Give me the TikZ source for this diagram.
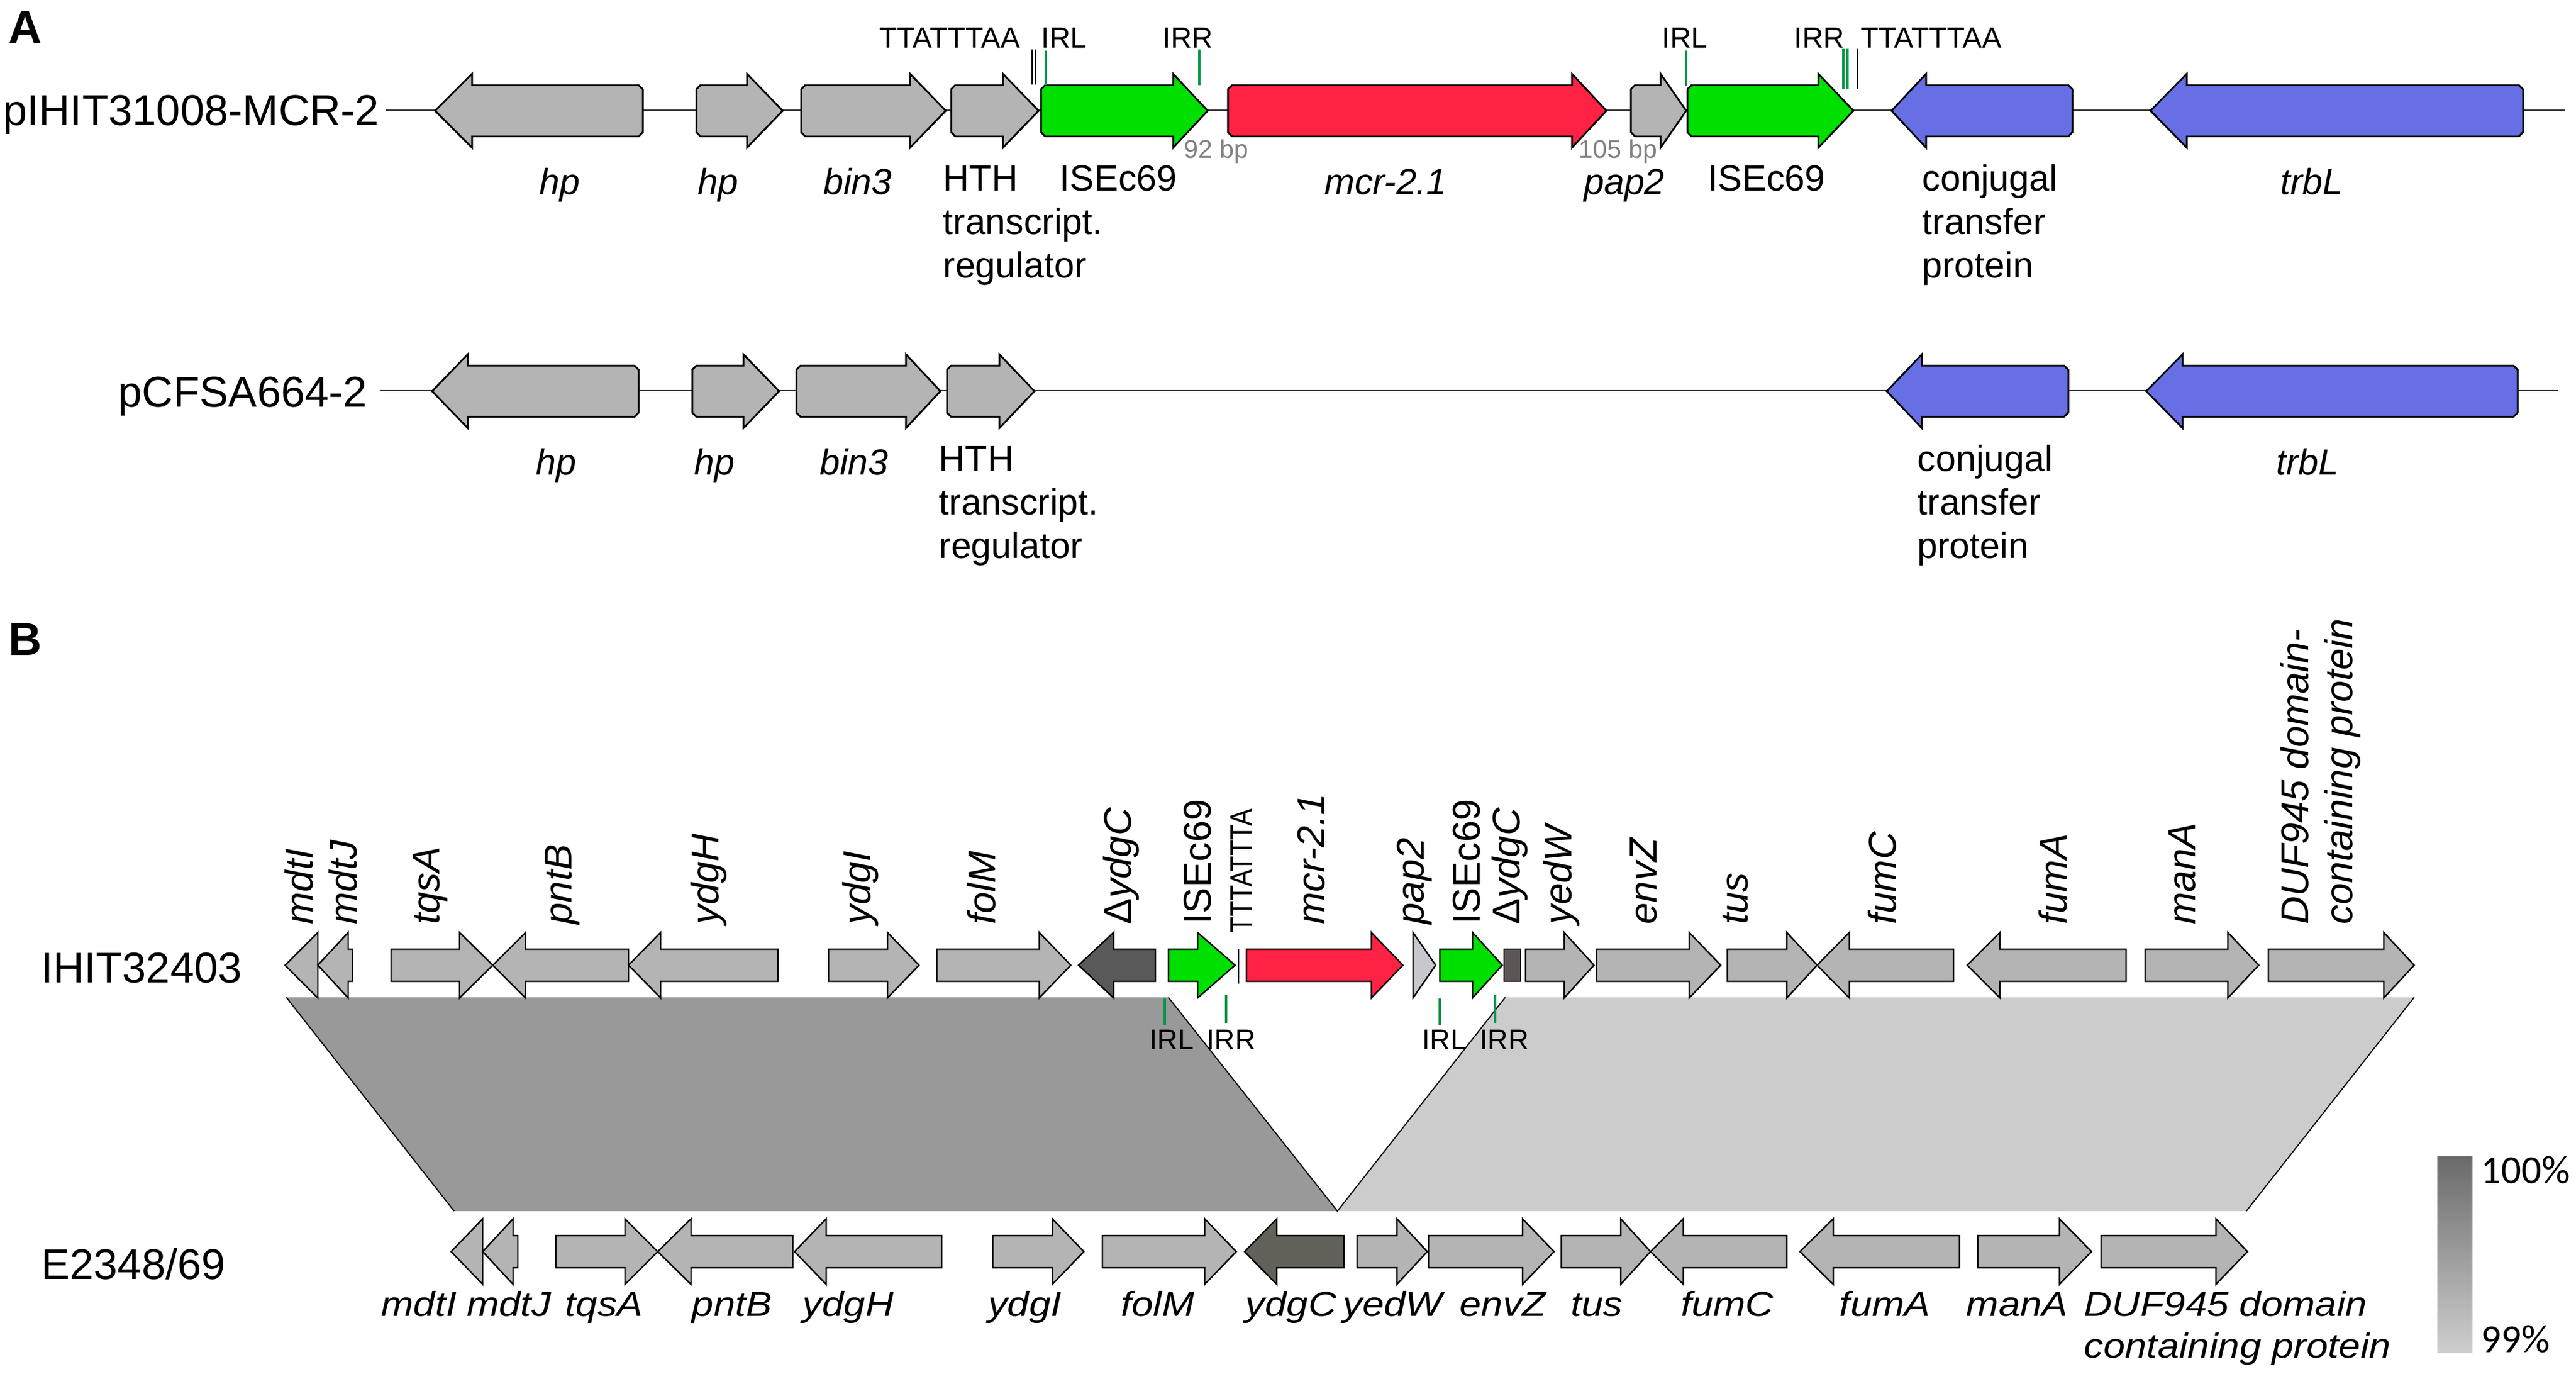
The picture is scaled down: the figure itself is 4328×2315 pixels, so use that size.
\documentclass[tikz,border=0pt]{standalone}
\usepackage{fontspec}
\setmainfont{Liberation Sans}
\newfontfamily\carlfont{Carlito}
\usepackage{graphicx}
\definecolor{ggrey}{RGB}{180,180,180}
\definecolor{ggreen}{RGB}{0,224,0}
\definecolor{gred}{RGB}{255,34,68}
\definecolor{gblue}{RGB}{102,112,228}
\definecolor{irgreen}{RGB}{0,150,70}
\definecolor{dkA}{RGB}{89,89,89}
\definecolor{dkB}{RGB}{94,86,86}
\definecolor{dkC}{RGB}{98,98,90}
\definecolor{ltpap}{RGB}{200,200,204}
\definecolor{blkL}{RGB}{153,153,153}
\definecolor{blkR}{RGB}{204,204,204}
\definecolor{bpgrey}{RGB}{128,128,128}
\def\Abody{43}\def\Ahead{62}\def\Acham{7}
\def\Bbody{27}\def\Bhead{55}
\tikzset{
  genea/.style={draw=black,line width=0.85pt,line join=miter},
  geneb/.style={draw=black,line width=0.7pt,line join=miter},
  backbone/.style={draw=black!80,line width=0.5pt},
  irline/.style={draw=irgreen,line width=1.1pt},
  tsdline/.style={draw=black,line width=0.45pt},
  panel/.style={font=\fontsize{22}{24}\selectfont\bfseries,inner sep=0,anchor=base west},
  rowlab/.style={font=\fontsize{20.6}{24}\selectfont,inner sep=0,anchor=base east},
  rowlabB/.style={font=\fontsize{20.5}{24}\selectfont,inner sep=0,anchor=base west},
  gl/.style={font=\fontsize{17.35}{20}\selectfont,inner sep=0,anchor=base},
  gli/.style={gl,font=\fontsize{17.35}{20}\selectfont\itshape},
  glw/.style={gl,anchor=base west},
  small/.style={font=\fontsize{13.9}{16}\selectfont,inner sep=0,anchor=base west},
  bp/.style={font=\fontsize{12.2}{14}\selectfont,text=bpgrey,inner sep=0,anchor=base west},
  rl/.style={font=\fontsize{18.5}{20}\selectfont\itshape,rotate=90,anchor=base west,inner sep=0},
  rlu/.style={rl,font=\fontsize{18.5}{20}\selectfont},
  irlab/.style={font=\fontsize{13.5}{16}\selectfont,inner sep=0,anchor=base west},
  bl/.style={font=\fontsize{16.5}{18}\selectfont\itshape,inner sep=0,anchor=base},
  blw/.style={bl,anchor=base west},
  leg/.style={font=\fontsize{19}{22}\selectfont\carlfont,inner sep=0,anchor=base west}
}
\newcommand\bsx[1]{\scalebox{1.125}[1]{#1}}
% panel A arrows (chamfered flat end)
\newcommand\geneAR[5]{\draw[genea,fill=#1] (#2,#5-\Abody+\Acham) -- (#2+\Acham,#5-\Abody) -- (#3,#5-\Abody) -- (#3,#5-\Ahead) -- (#4,#5) -- (#3,#5+\Ahead) -- (#3,#5+\Abody) -- (#2+\Acham,#5+\Abody) -- (#2,#5+\Abody-\Acham) -- cycle;}
\newcommand\geneAL[5]{\draw[genea,fill=#1] (#4,#5-\Abody+\Acham) -- (#4-\Acham,#5-\Abody) -- (#3,#5-\Abody) -- (#3,#5-\Ahead) -- (#2,#5) -- (#3,#5+\Ahead) -- (#3,#5+\Abody) -- (#4-\Acham,#5+\Abody) -- (#4,#5+\Abody-\Acham) -- cycle;}
% panel B arrows
\newcommand\geneBR[5]{\draw[geneb,fill=#1] (#2,#5-\Bbody) -- (#3,#5-\Bbody) -- (#3,#5-\Bhead) -- (#4,#5) -- (#3,#5+\Bhead) -- (#3,#5+\Bbody) -- (#2,#5+\Bbody) -- cycle;}
\newcommand\geneBL[5]{\draw[geneb,fill=#1] (#4,#5-\Bbody) -- (#3,#5-\Bbody) -- (#3,#5-\Bhead) -- (#2,#5) -- (#3,#5+\Bhead) -- (#3,#5+\Bbody) -- (#4,#5+\Bbody) -- cycle;}
\newcommand\geneBT[4]{\draw[geneb,fill=#1] (#2,#4-\Bhead) -- (#3,#4) -- (#2,#4+\Bhead) -- cycle;}
\begin{document}
\begin{tikzpicture}[x=0.01cm,y=-0.01cm]
\useasboundingbox (0,0) rectangle (4328,2315);
% ================= PANEL A =================
\node[panel] (pA) at (14,72) {A};
% row 1
\node[rowlab] (r1) at (638,210) {pIHIT31008-MCR-2};
\draw[backbone] (648,185) -- (4310,185);
\geneAL{ggrey}{731}{793}{1080}{186}
\geneAR{ggrey}{1170}{1255}{1315}{186}
\geneAR{ggrey}{1346}{1529}{1589}{186}
\geneAR{ggrey}{1598}{1685}{1745}{186}
\geneAR{ggreen}{1749}{1971}{2029}{186}
\geneAR{gred}{2063}{2641}{2699}{186}
\geneAR{ggrey}{2740}{2790}{2833}{186}
\geneAR{ggreen}{2835}{3055}{3114}{186}
\geneAL{gblue}{3178}{3236}{3482}{186}
\geneAL{gblue}{3613}{3674}{4239}{186}
% markers row 1
\draw[tsdline] (1734,83) -- (1734,142);
\draw[tsdline] (1740,83) -- (1740,142);
\draw[irline] (1757,85) -- (1757,143);
\draw[irline] (2015,83) -- (2015,143);
\draw[irline] (2833,85) -- (2833,144);
\draw[irline] (3097,82) -- (3097,150);
\draw[irline] (3104,82) -- (3104,150);
\draw[tsdline] (3121,82) -- (3121,150);
\node[small] (t1) at (1477,80) {TTATTTAA};
\node[small] (i1) at (1749,80) {IRL};
\node[small] (i2) at (1953,80) {IRR};
\node[small] (i3) at (2792,80) {IRL};
\node[small] (i4) at (3014,80) {IRR};
\node[small] (t2) at (3126,80) {TTATTTAA};
\node[bp] (bp1) at (1989,265) {92 bp};
\node[bp] (bp2) at (2652,265) {105 bp};
% labels row 1
\node[gli] (l1) at (940,326) {hp};
\node[gli] (l2) at (1206,326) {hp};
\node[gli] (l3) at (1441,326) {bin3};
\node[glw] (l4a) at (1584,320) {HTH};
\node[glw] (l4b) at (1584,393) {transcript.};
\node[glw] (l4c) at (1584,466) {regulator};
\node[gl] (l5) at (1879,320) {ISEc69};
\node[gli] (l6) at (2328,326) {mcr-2.1};
\node[gli] (l7) at (2729,326) {pap2};
\node[gl] (l8) at (2968,320) {ISEc69};
\node[glw] (l9a) at (3229,320) {conjugal};
\node[glw] (l9b) at (3229,393) {transfer};
\node[glw] (l9c) at (3229,466) {protein};
\node[gli] (l10) at (3884,326) {trbL};
% row 2
\node[rowlab] (r2) at (618,683) {pCFSA664-2};
\draw[backbone] (638,656) -- (4298,656);
\geneAL{ggrey}{726}{786}{1073}{657}
\geneAR{ggrey}{1163}{1249}{1309}{657}
\geneAR{ggrey}{1338}{1522}{1580}{657}
\geneAR{ggrey}{1591}{1679}{1738}{657}
\geneAL{gblue}{3170}{3229}{3475}{657}
\geneAL{gblue}{3606}{3667}{4230}{657}
\node[gli] (m1) at (934,797) {hp};
\node[gli] (m2) at (1200,797) {hp};
\node[gli] (m3) at (1435,797) {bin3};
\node[glw] (m4a) at (1577,791) {HTH};
\node[glw] (m4b) at (1577,864) {transcript.};
\node[glw] (m4c) at (1577,937) {regulator};
\node[glw] (m9a) at (3221,791) {conjugal};
\node[glw] (m9b) at (3221,864) {transfer};
\node[glw] (m9c) at (3221,937) {protein};
\node[gli] (m10) at (3877,797) {trbL};
% ================= PANEL B =================
\node[panel] (pB) at (14,1100) {B};
% synteny blocks
\fill[blkL] (481,1675) -- (1963,1675) -- (2247,2034) -- (763,2034) -- cycle;
\fill[blkR] (2529,1675) -- (4056,1675) -- (3774,2034) -- (2247,2034) -- cycle;
\draw[black,line width=0.55pt] (481,1675) -- (763,2034);
\draw[black,line width=0.55pt] (1963,1675) -- (2247,2034) -- (2529,1675);
\draw[black,line width=0.55pt] (4056,1675) -- (3774,2034);
% row B1
\node[rowlabB] (s1) at (69,1650) {IHIT32403};
\geneBT{ggrey}{534}{479}{1621}
\geneBL{ggrey}{534}{585}{592}{1621}
\geneBR{ggrey}{657}{772}{828}{1621}
\geneBL{ggrey}{828}{883}{1056}{1621}
\geneBL{ggrey}{1056}{1110}{1307}{1621}
\geneBR{ggrey}{1392}{1491}{1544}{1621}
\geneBR{ggrey}{1574}{1746}{1799}{1621}
\geneBL{dkA}{1812}{1871}{1941}{1621}
\geneBR{ggreen}{1963}{2012}{2075}{1621}
\geneBR{gred}{2094}{2304}{2357}{1621}
\geneBT{ltpap}{2374}{2412}{1621}
\geneBR{ggreen}{2419}{2474}{2524}{1621}
\draw[geneb,fill=dkB] (2527,1621-\Bbody) rectangle (2555,1621+\Bbody);
\geneBR{ggrey}{2563}{2628}{2678}{1621}
\geneBR{ggrey}{2682}{2838}{2891}{1621}
\geneBR{ggrey}{2902}{3002}{3053}{1621}
\geneBL{ggrey}{3053}{3107}{3282}{1621}
\geneBL{ggrey}{3305}{3360}{3572}{1621}
\geneBR{ggrey}{3604}{3743}{3795}{1621}
\geneBR{ggrey}{3811}{4005}{4056}{1621}
\draw[tsdline] (2081,1594) -- (2081,1652);
% IR marks
\draw[irline] (1957,1677) -- (1957,1722);
\draw[irline] (2060,1671) -- (2060,1718);
\draw[irline] (2419,1677) -- (2419,1722);
\draw[irline] (2512,1671) -- (2512,1718);
\node[irlab] (j1) at (1931,1762) {IRL};
\node[irlab] (j2) at (2027,1762) {IRR};
\node[irlab] (j3) at (2389,1762) {IRL};
\node[irlab] (j4) at (2486,1762) {IRR};
% rotated labels
\node[rl] (n1) at (525,1553) {mdtI};
\node[rl] (n2) at (599,1553) {mdtJ};
\node[rl] (n3) at (738,1553) {tqsA};
\node[rl] (n4) at (960,1553) {pntB};
\node[rl] (n5) at (1207,1553) {ydgH};
\node[rl] (n6) at (1462,1553) {ydgI};
\node[rl] (n7) at (1672,1553) {folM};
\node[rl] (n8) at (1900,1553) {\upshape Δ\itshape ydgC};
\node[rlu] (n9) at (2034,1553) {ISEc69};
\node[rlu,font=\fontsize{14.8}{16}\selectfont] (n10) at (2103,1567) {\scalebox{0.835}[1]{TTTATTTA}};
\node[rl] (n11) at (2225,1553) {mcr-2.1};
\node[rl] (n12) at (2392,1553) {pap2};
\node[rlu] (n13) at (2486,1553) {ISEc69};
\node[rl] (n14) at (2553,1553) {\upshape Δ\itshape ydgC};
\node[rl] (n15) at (2640,1553) {yedW};
\node[rl] (n16) at (2783,1553) {envZ};
\node[rl] (n17) at (2936,1553) {tus};
\node[rl] (n18) at (3185,1553) {fumC};
\node[rl] (n19) at (3472,1553) {fumA};
\node[rl] (n20) at (3688,1553) {manA};
\node[rl] (n21) at (3878,1553) {DUF945 domain-};
\node[rl] (n22) at (3952,1553) {containing protein};
% row B2
\node[rowlabB] (s2) at (69,2148) {E2348/69};
\geneBT{ggrey}{811}{758}{2102}
\geneBL{ggrey}{811}{862}{870}{2102}
\geneBR{ggrey}{934}{1050}{1105}{2102}
\geneBL{ggrey}{1105}{1161}{1332}{2102}
\geneBL{ggrey}{1335}{1388}{1582}{2102}
\geneBR{ggrey}{1668}{1768}{1821}{2102}
\geneBR{ggrey}{1852}{2024}{2077}{2102}
\geneBL{dkC}{2091}{2145}{2258}{2102}
\geneBR{ggrey}{2280}{2347}{2398}{2102}
\geneBR{ggrey}{2400}{2558}{2611}{2102}
\geneBR{ggrey}{2623}{2723}{2773}{2102}
\geneBL{ggrey}{2773}{2828}{3002}{2102}
\geneBL{ggrey}{3024}{3080}{3292}{2102}
\geneBR{ggrey}{3323}{3460}{3514}{2102}
\geneBR{ggrey}{3530}{3723}{3776}{2102}
\node[bl] (o1) at (704,2210) {\bsx{mdtI}};
\node[bl] (o2) at (855,2210) {\bsx{mdtJ}};
\node[bl] (o3) at (1015,2210) {\bsx{tqsA}};
\node[bl] (o4) at (1230,2210) {\bsx{pntB}};
\node[bl] (o5) at (1425,2210) {\bsx{ydgH}};
\node[bl] (o6) at (1722,2210) {\bsx{ydgI}};
\node[bl] (o7) at (1945,2210) {\bsx{folM}};
\node[bl] (o8) at (2169,2210) {\bsx{ydgC}};
\node[bl] (o9) at (2340,2210) {\bsx{yedW}};
\node[bl] (o10) at (2525,2210) {\bsx{envZ}};
\node[bl] (o11) at (2683,2210) {\bsx{tus}};
\node[bl] (o12) at (2902,2210) {\bsx{fumC}};
\node[bl] (o13) at (3167,2210) {\bsx{fumA}};
\node[bl] (o14) at (3389,2210) {\bsx{manA}};
\node[blw] (o15) at (3501,2210) {\bsx{DUF945 domain}};
\node[blw] (o16) at (3501,2280) {\bsx{containing protein}};
% legend
\shade[top color={rgb,255:red,106;green,106;blue,106},bottom color={rgb,255:red,206;green,206;blue,206}] (4095,1942) rectangle (4154,2271);
\node[leg] (g1) at (4168,1987) {100\%};
\node[leg] (g2) at (4168,2271) {99\%};
\end{tikzpicture}
\end{document}
